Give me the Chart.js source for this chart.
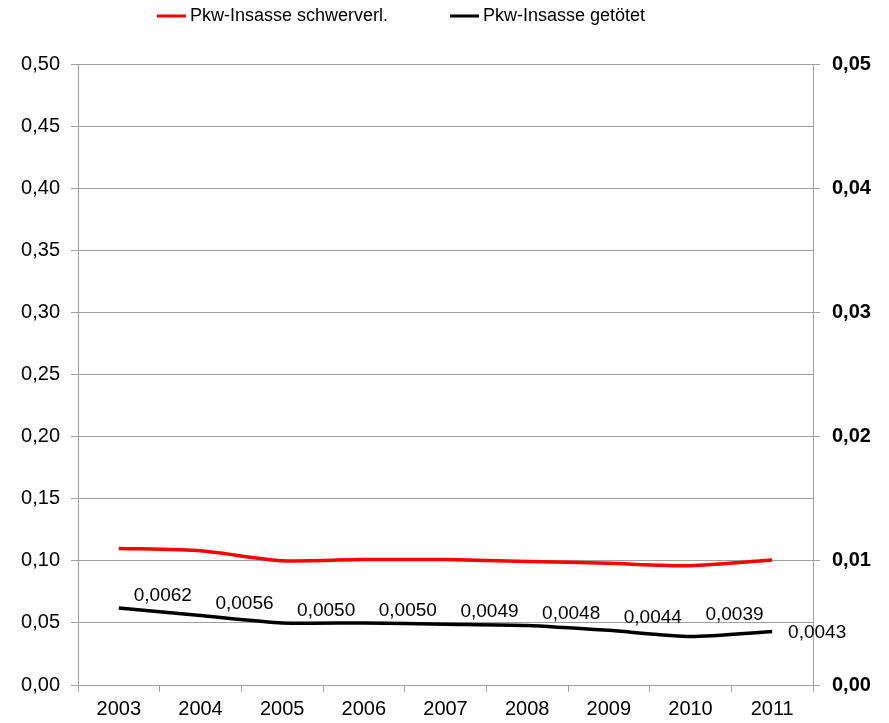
<!DOCTYPE html>
<html>
<head>
<meta charset="utf-8">
<script src="https://cdn.jsdelivr.net/npm/chart.js@4"></script>
<style>
  html, body { margin: 0; padding: 0; background: #fff; }
  #wrap { width: 889px; height: 723px; position: relative; }
</style>
</head>
<body>
<div id="wrap"><canvas id="chart"></canvas></div>
<script>
// --- Data ---
const years = ['2003', '2004', '2005', '2006', '2007', '2008', '2009', '2010', '2011'];
const schwerverletzt = [0.110, 0.108, 0.100, 0.101, 0.101, 0.0995, 0.098, 0.096, 0.1006];
const getoetet = [0.0062, 0.0056, 0.0050, 0.0050, 0.0049, 0.0048, 0.0044, 0.0039, 0.0043];
const seriesNames = ['Pkw-Insasse schwerverl.', 'Pkw-Insasse getötet'];
const seriesColors = ['#ff0000', '#000000'];

// label offsets (px) for the black series' value labels
const LABEL_DX = [44, 44, 44, 44, 44, 44, 44, 44, 45];
const LABEL_DY = [-12, -12, -12, -12, -12, -12, -13, -22, 1];
// legend item x positions
const LEGEND_X = [157, 450];

const GRID = '#a0a0a0';
const FONT = 'Liberation Sans, Arial, sans-serif';

const fmt = (v, d) => v.toFixed(d).replace('.', ',');

// value labels next to each black point + simple top legend
const extras = {
    id: 'extras',
    afterDatasetsDraw(chart) {
        const ctx = chart.ctx;
        ctx.save();
        ctx.font = '19px ' + FONT;
        ctx.fillStyle = '#000';
        ctx.textAlign = 'center';
        ctx.textBaseline = 'middle';
        chart.getDatasetMeta(1).data.forEach((pt, i) => {
            ctx.fillText(fmt(getoetet[i], 4), pt.x + LABEL_DX[i], pt.y + LABEL_DY[i]);
        });

        ctx.font = '18px ' + FONT;
        ctx.textAlign = 'left';
        seriesNames.forEach((name, i) => {
            const x = LEGEND_X[i];
            ctx.strokeStyle = seriesColors[i];
            ctx.lineWidth = 3;
            ctx.beginPath();
            ctx.moveTo(x, 16);
            ctx.lineTo(x + 29, 16);
            ctx.stroke();
            ctx.fillStyle = '#000';
            ctx.fillText(name, x + 33, 16);
        });
        ctx.restore();
    }
};

new Chart(document.getElementById('chart'), {
    type: 'line',
    data: {
        labels: years,
        datasets: [
            {
                label: seriesNames[0],
                data: schwerverletzt,
                borderColor: seriesColors[0],
                borderWidth: 3.5,
                pointRadius: 0,
                tension: 0.2,
                yAxisID: 'y'
            },
            {
                label: seriesNames[1],
                data: getoetet,
                borderColor: seriesColors[1],
                borderWidth: 3.5,
                pointRadius: 0,
                tension: 0.2,
                yAxisID: 'y1'
            }
        ]
    },
    options: {
        responsive: true,
        maintainAspectRatio: false,
        animation: false,
        layout: { padding: { top: 64, left: 0, right: 0, bottom: 0 } },
        plugins: {
            legend: { display: false },
            tooltip: { enabled: false }
        },
        scales: {
            x: {
                offset: true,
                grid: { display: true, drawOnChartArea: false, offset: true, color: GRID, tickLength: 7 },
                border: { color: GRID },
                ticks: { color: '#000', font: { family: FONT, size: 20 }, padding: 5, maxRotation: 0 },
                afterFit: s => { s.height = 38; }
            },
            y: {
                position: 'left',
                min: 0, max: 0.5,
                grid: { color: GRID, tickLength: 7 },
                border: { color: GRID },
                ticks: {
                    stepSize: 0.05,
                    color: '#000',
                    font: { family: FONT, size: 20 },
                    padding: 11,
                    callback: v => fmt(v, 2)
                },
                afterFit: s => { s.width = 78; }
            },
            y1: {
                position: 'right',
                min: 0, max: 0.05,
                grid: { drawOnChartArea: false, color: GRID, tickLength: 7 },
                border: { color: GRID },
                ticks: {
                    stepSize: 0.01,
                    color: '#000',
                    font: { family: FONT, size: 20, weight: 'bold' },
                    padding: 12,
                    callback: v => fmt(v, 2)
                },
                afterFit: s => { s.width = 76; }
            }
        }
    },
    plugins: [extras]
});
</script>
</body>
</html>
